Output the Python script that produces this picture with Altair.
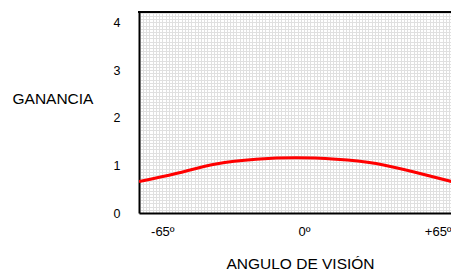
import altair as alt
import pandas as pd
import numpy as np

# Curve values
angles = [-75.7, -58.7, -40.4, -22.0, -3.7, 14.7, 33.0, 51.4, 71.1]
gain = [0.66, 0.83, 1.03, 1.13, 1.16, 1.13, 1.04, 0.85, 0.62]

x_tick_labels = {-65: "-65º", 0: "0º", 65: "+65º"}
y_tick_labels = [0, 1, 2, 3, 4]

df = pd.DataFrame({"angle": angles, "gain": gain})

W, H = 312, 201
xdom = [-75.7, -75.7 + W / 2.18]
ydom = [0, 4.22]

xgrid = [k * 65 / 44 for k in range(-51, 49)]
ygrid = [k / 15 for k in range(0, 64)]

font = "Liberation Sans"

xlabel_expr = ("abs(datum.value) < 0.01 ? '0º' : (abs(datum.value - 65) < 0.01 ? '+65º' : "
               "(abs(datum.value + 65) < 0.01 ? '-65º' : ''))")
ylabel_expr = ("abs(datum.value - round(datum.value)) < 0.001 ? format(round(datum.value), 'd') : ''")

line = alt.Chart(df).mark_line(color="#ff0000", strokeWidth=3, clip=True,
                               interpolate="natural").encode(
    x=alt.X("angle:Q", scale=alt.Scale(domain=xdom, nice=False, zero=False),
            axis=alt.Axis(values=xgrid, labelExpr=xlabel_expr, ticks=False,
                          labelOverlap=False, labelFlush=False,
                          labelOffset=alt.ConditionalAxisNumber(
                              condition={"test": "datum.value > 60", "value": -8},
                              value=0),
                          grid=True, gridColor="#e0e0e0", gridWidth=1,
                          domainColor="black", domainWidth=2,
                          labelFont=font, labelFontSize=13, labelColor="black",
                          labelPadding=12,
                          title="ANGULO DE VISIÓN", titleFont=font, titleFontSize=15.5,
                          titleFontWeight="normal", titleColor="black",
                          titleX=161, titleAnchor="middle",
                          titlePadding=18)),
    y=alt.Y("gain:Q", scale=alt.Scale(domain=ydom, nice=False),
            axis=alt.Axis(values=ygrid, labelExpr=ylabel_expr, ticks=False,
                          labelOverlap=False, labelFlush=False,
                          grid=True, gridColor="#e0e0e0", gridWidth=1,
                          domainColor="black", domainWidth=2,
                          labelFont=font, labelFontSize=12.5, labelColor="black",
                          labelPadding=19,
                          title="GANANCIA", titleFont=font, titleFontSize=15.5,
                          titleFontWeight="normal", titleColor="black",
                          titleAngle=0, titleAlign="left", titleBaseline="alphabetic",
                          titleX=-127, titleY=91)),
)

top = alt.Chart(pd.DataFrame({"a": [0]})).mark_rule(color="black", strokeWidth=2).encode(
    y=alt.value(0), x=alt.value(-1), x2=alt.value(W)
)

chart = alt.layer(line, top).properties(
    width=W, height=H,
    autosize=alt.AutoSizeParams(type="none"),
    padding={"left": 131, "top": 4, "right": 0, "bottom": 60},
).configure_view(stroke=None)

chart.save("out.html", embed_options={"renderer": "svg", "actions": False})
